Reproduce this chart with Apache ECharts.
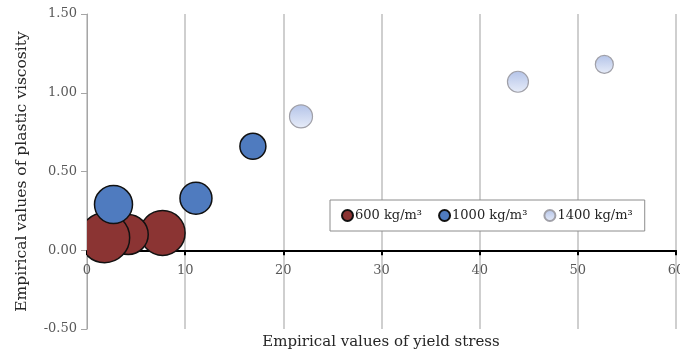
<!DOCTYPE html>
<html>
<head>
<meta charset="utf-8">
<script src="https://cdn.jsdelivr.net/npm/echarts@6/dist/echarts.min.js"></script>
<style>html,body{margin:0;padding:0;background:#fff;}#main{width:680px;height:358px;}</style>
</head>
<body>
<div id="main"></div>
<script>
// Data
const seriesNames = ['600 kg/m³', '1000 kg/m³', '1400 kg/m³'];
// 600 kg/m3
const x600 = [7.7, 4.2, 1.8];
const y600 = [0.11, 0.10, 0.08];
const s600 = [45, 40, 50];
// 1000 kg/m3
const x1000 = [2.7, 11.1, 16.9];
const y1000 = [0.29, 0.33, 0.66];
const s1000 = [38, 32, 26];
// 1400 kg/m3
const x1400 = [21.8, 43.9, 52.7];
const y1400 = [0.85, 1.07, 1.18];
const s1400 = [23, 21, 18];

const xTicks = [0, 10, 20, 30, 40, 50, 60];
const yTicks = [-0.5, 0, 0.5, 1.0, 1.5];

function zip(xs, ys, ss) { return xs.map((v, i) => [v, ys[i], ss[i]]); }

function renderBubble(params, api) {
  const p = api.coord([api.value(0), api.value(1)]);
  const r = api.value(2) / 2;
  return {
    type: 'circle',
    shape: { cx: p[0], cy: p[1], r: r },
    style: api.style()
  };
}

const FONT = '"DejaVu Serif", "Liberation Serif", serif';
const lightGrad = new echarts.graphic.LinearGradient(0, 0, 0, 1, [
  { offset: 0, color: '#b3c3e8' },
  { offset: 1, color: '#e8edf9' }
]);

const chart = echarts.init(document.getElementById('main'), null, { renderer: 'canvas' });
chart.setOption({
  animation: false,
  textStyle: { fontFamily: FONT },
  grid: { left: 87, right: 4, top: 14, bottom: 29, containLabel: false, outerBoundsMode: 'none' },
  xAxis: {
    type: 'value',
    min: xTicks[0], max: xTicks[xTicks.length - 1], interval: 10,
    axisLine: { show: true, onZero: true, lineStyle: { color: '#000', width: 2 } },
    axisTick: { show: true, length: 5, lineStyle: { color: '#000', width: 2 } },
    axisLabel: { color: '#595959', fontSize: 13, fontFamily: FONT, margin: -65, hideOverlap: false },
    splitLine: { show: true, lineStyle: { color: '#bfbfbf', width: 1.5 } }
  },
  yAxis: {
    type: 'value',
    min: yTicks[0], max: yTicks[yTicks.length - 1], interval: 0.5,
    name: 'Empirical values of plastic viscosity',
    nameLocation: 'middle',
    nameGap: 57,
    nameTextStyle: { color: '#262626', fontSize: 15.5, fontFamily: FONT },
    axisLine: { show: true, onZero: false, lineStyle: { color: '#a6a6a6', width: 1 } },
    axisTick: { show: true, length: 6, lineStyle: { color: '#a6a6a6' } },
    axisLabel: { color: '#595959', fontSize: 13, fontFamily: FONT, margin: 10,
      formatter: v => v.toFixed(2) },
    splitLine: { show: false }
  },
  legend: {
    left: 330, top: 200,
    padding: [9, 12, 9, 11],
    itemGap: 16,
    itemWidth: 11, itemHeight: 11,
    borderColor: '#8c8c8c', borderWidth: 1,
    backgroundColor: '#fff',
    textStyle: { color: '#262626', fontSize: 13, fontFamily: FONT, padding: [0, 0, 0, -3] },
    data: seriesNames.map(n => ({ name: n, icon: 'circle' }))
  },
  graphic: [{
    type: 'text',
    x: 381, y: 335,
    style: { text: 'Empirical values of yield stress', font: '15px ' + FONT, fill: '#262626', textAlign: 'center' }
  }],
  series: [
    { name: seriesNames[0], type: 'custom', clip: true, renderItem: renderBubble,
      itemStyle: { color: '#8b3433', borderColor: '#111', borderWidth: 1.5 },
      data: zip(x600, y600, s600), z: 3 },
    { name: seriesNames[1], type: 'custom', clip: true, renderItem: renderBubble,
      itemStyle: { color: '#4f7bbf', borderColor: '#111', borderWidth: 1.5 },
      data: zip(x1000, y1000, s1000), z: 4 },
    { name: seriesNames[2], type: 'custom', clip: true, renderItem: renderBubble,
      itemStyle: { color: lightGrad, borderColor: '#a0a0a8', borderWidth: 1.2 },
      data: zip(x1400, y1400, s1400), z: 4 }
  ]
});
</script>
</body>
</html>
